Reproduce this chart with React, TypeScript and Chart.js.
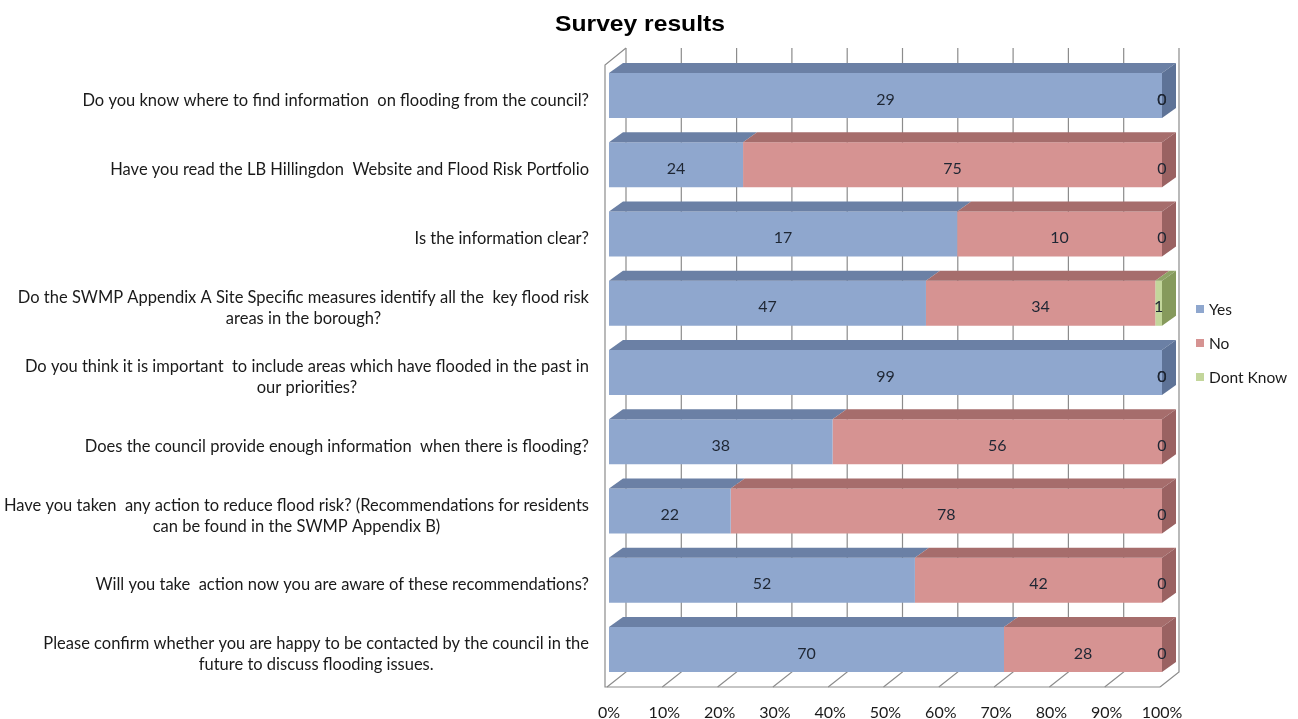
import React, { useEffect, useRef } from 'react';
import { Chart, registerables } from 'chart.js';

Chart.register(...registerables);

const chartTitle = 'Survey results';

const categories: string[][] = [
  ['Do you know where to find information  on flooding from the council?'],
  ['Have you read the LB Hillingdon  Website and Flood Risk Portfolio'],
  ['Is the information clear?'],
  ['Do the SWMP Appendix A Site Specific measures identify all the  key flood risk', 'areas in the borough?'],
  ['Do you think it is important  to include areas which have flooded in the past in', 'our priorities?'],
  ['Does the council provide enough information  when there is flooding?'],
  ['Have you taken  any action to reduce flood risk? (Recommendations for residents', 'can be found in the SWMP Appendix B)'],
  ['Will you take  action now you are aware of these recommendations?'],
  ['Please confirm whether you are happy to be contacted by the council in the', 'future to discuss flooding issues.'],
];

const yesValues = [29, 24, 17, 47, 99, 38, 22, 52, 70];
const noValues = [0, 75, 10, 34, 0, 56, 78, 42, 28];
const dontKnowValues = [0, 0, 0, 1, 0, 0, 0, 0, 0];

const seriesNames = ['Yes', 'No', 'Dont Know'];
const frontColors = ['#8FA7CE', '#D69392', '#C3D69B'];
const topColors = ['#6B80A5', '#A66D6C', '#8FA366'];
const sideColors = ['#5E7397', '#9A6262', '#869A5C'];

const FONT = 'Lato, "Open Sans", sans-serif';

const App: React.FC = () => {
  const canvasRef = useRef<HTMLCanvasElement | null>(null);

  useEffect(() => {
    document.body.style.margin = '0';
    const canvas = canvasRef.current;
    if (!canvas) return;

    const raw = [yesValues, noValues, dontKnowValues];
    const totals = yesValues.map((v, i) => v + noValues[i] + dontKnowValues[i]);
    const pct = raw.map((arr) => arr.map((v, i) => (totals[i] ? (v / totals[i]) * 100 : 0)));

    const BDX = 14, BDY = -10; // bar depth
    const WDX = 19, WDY = -15; // wall depth

    const threeD = {
      id: 'threeD',
      beforeDatasetsDraw(chart: any) {
        const { ctx, chartArea } = chart;
        const xs = chart.scales.x;
        const floorFrontY = chartArea.bottom + 3;
        const floorBackY = floorFrontY + WDY;
        const wallTopY = chartArea.top - 13;
        const x0 = xs.getPixelForValue(0);
        const x100 = xs.getPixelForValue(100);
        ctx.save();
        ctx.strokeStyle = '#8C8C8C';
        ctx.lineWidth = 1.2;
        for (let v = 0; v <= 100; v += 10) {
          const xf = xs.getPixelForValue(v) - 2;
          const xb = xf + WDX;
          ctx.beginPath();
          ctx.moveTo(xb, wallTopY);
          ctx.lineTo(xb, floorBackY);
          ctx.lineTo(xf, floorFrontY);
          ctx.stroke();
        }
        const L = x0 - 4;
        ctx.beginPath();
        ctx.moveTo(x100 - 2, floorFrontY);
        ctx.lineTo(L, floorFrontY);
        ctx.lineTo(L, wallTopY + 17);
        ctx.lineTo(x0 - 2 + WDX, wallTopY);
        ctx.stroke();
        ctx.restore();
      },
      afterDatasetsDraw(chart: any) {
        const { ctx } = chart;
        const n = categories.length;
        ctx.save();
        for (let i = 0; i < n; i++) {
          let lastIdx = -1;
          let lastEl: any = null;
          for (let d = 0; d < raw.length; d++) {
            const el = chart.getDatasetMeta(d).data[i];
            const p = el.getProps(['x', 'y', 'base', 'height'], true);
            const left = Math.min(p.x, p.base);
            const right = Math.max(p.x, p.base);
            const top = p.y - p.height / 2;
            if (right - left > 0.3) {
              ctx.fillStyle = topColors[d];
              ctx.beginPath();
              ctx.moveTo(left, top);
              ctx.lineTo(right, top);
              ctx.lineTo(right + BDX, top + BDY);
              ctx.lineTo(left + BDX, top + BDY);
              ctx.closePath();
              ctx.fill();
              lastIdx = d;
              lastEl = p;
            }
          }
          if (lastEl) {
            const right = Math.max(lastEl.x, lastEl.base);
            const top = lastEl.y - lastEl.height / 2;
            const bottom = lastEl.y + lastEl.height / 2;
            ctx.fillStyle = sideColors[lastIdx];
            ctx.beginPath();
            ctx.moveTo(right, top);
            ctx.lineTo(right + BDX, top + BDY);
            ctx.lineTo(right + BDX, bottom + BDY);
            ctx.lineTo(right, bottom);
            ctx.closePath();
            ctx.fill();
          }
        }
        ctx.fillStyle = '#1E2633';
        ctx.font = '16px ' + FONT;
        ctx.textAlign = 'center';
        ctx.textBaseline = 'middle';
        for (let d = 0; d < raw.length; d++) {
          const meta = chart.getDatasetMeta(d);
          meta.data.forEach((el: any, i: number) => {
            const p = el.getProps(['x', 'y', 'base'], true);
            ctx.fillText(String(raw[d][i]), (p.x + p.base) / 2, p.y + 4);
          });
        }
        ctx.restore();
      },
      afterDraw(chart: any) {
        const { ctx, chartArea } = chart;
        const ys = chart.scales.y;
        ctx.save();
        ctx.fillStyle = '#000';
        ctx.font = 'bold 22px "Liberation Sans", Arial, sans-serif';
        ctx.textAlign = 'center';
        ctx.textBaseline = 'middle';
        ctx.save();
        ctx.translate(640, 25);
        ctx.scale(1.12, 1);
        ctx.fillText(chartTitle, 0, 0);
        ctx.restore();

        ctx.font = '16.5px ' + FONT;
        ctx.fillStyle = '#1A1A1A';
        const rightEdge = chartArea.left - 20;
        const lh = 21;
        categories.forEach((lines, i) => {
          const cy = ys.getPixelForValue(i) + 5;
          const widths = lines.map((l) => ctx.measureText(l).width);
          const maxW = Math.max(...widths);
          const cx = rightEdge - maxW / 2;
          const startY = cy - ((lines.length - 1) * lh) / 2;
          lines.forEach((l, k) => {
            ctx.fillText(l, cx, startY + k * lh);
          });
        });

        const lx = chartArea.right + 34;
        const ly0 = chartArea.top + 248;
        ctx.textAlign = 'left';
        ctx.font = '15.5px ' + FONT;
        seriesNames.forEach((name, k) => {
          const y = ly0 + k * 34;
          ctx.fillStyle = frontColors[k];
          ctx.fillRect(lx, y - 4, 8, 8);
          ctx.fillStyle = '#1A1A1A';
          ctx.fillText(name, lx + 13, y + 1);
        });
        ctx.restore();
      },
    };

    const chart = new Chart(canvas, {
      type: 'bar',
      data: {
        labels: categories.map((c) => c.join(' ')),
        datasets: seriesNames.map((name, d) => ({
          label: name,
          data: pct[d],
          backgroundColor: frontColors[d],
          borderWidth: 0,
          barPercentage: 0.65,
          categoryPercentage: 1,
        })),
      },
      options: {
        indexAxis: 'y',
        responsive: false,
        animation: false,
        layout: { padding: { left: 609, right: 136, top: 61, bottom: 0 } },
        plugins: {
          legend: { display: false },
          title: { display: false },
          tooltip: { enabled: false },
        },
        scales: {
          x: {
            stacked: true,
            min: 0,
            max: 100,
            grid: { display: false },
            border: { display: false },
            afterFit: (scale: any) => {
              scale.height = 35;
            },
            ticks: {
              stepSize: 10,
              padding: 11,
              color: '#1A1A1A',
              font: { family: FONT, size: 16 },
              callback: (v: any) => v + '%',
            },
          },
          y: {
            stacked: true,
            display: false,
          },
        },
      },
      plugins: [threeD],
    } as any);

    return () => chart.destroy();
  }, []);

  return (
    <div style={{ width: 1298, height: 719 }}>
      <canvas ref={canvasRef} width={1298} height={719} />
    </div>
  );
};

export default App;
